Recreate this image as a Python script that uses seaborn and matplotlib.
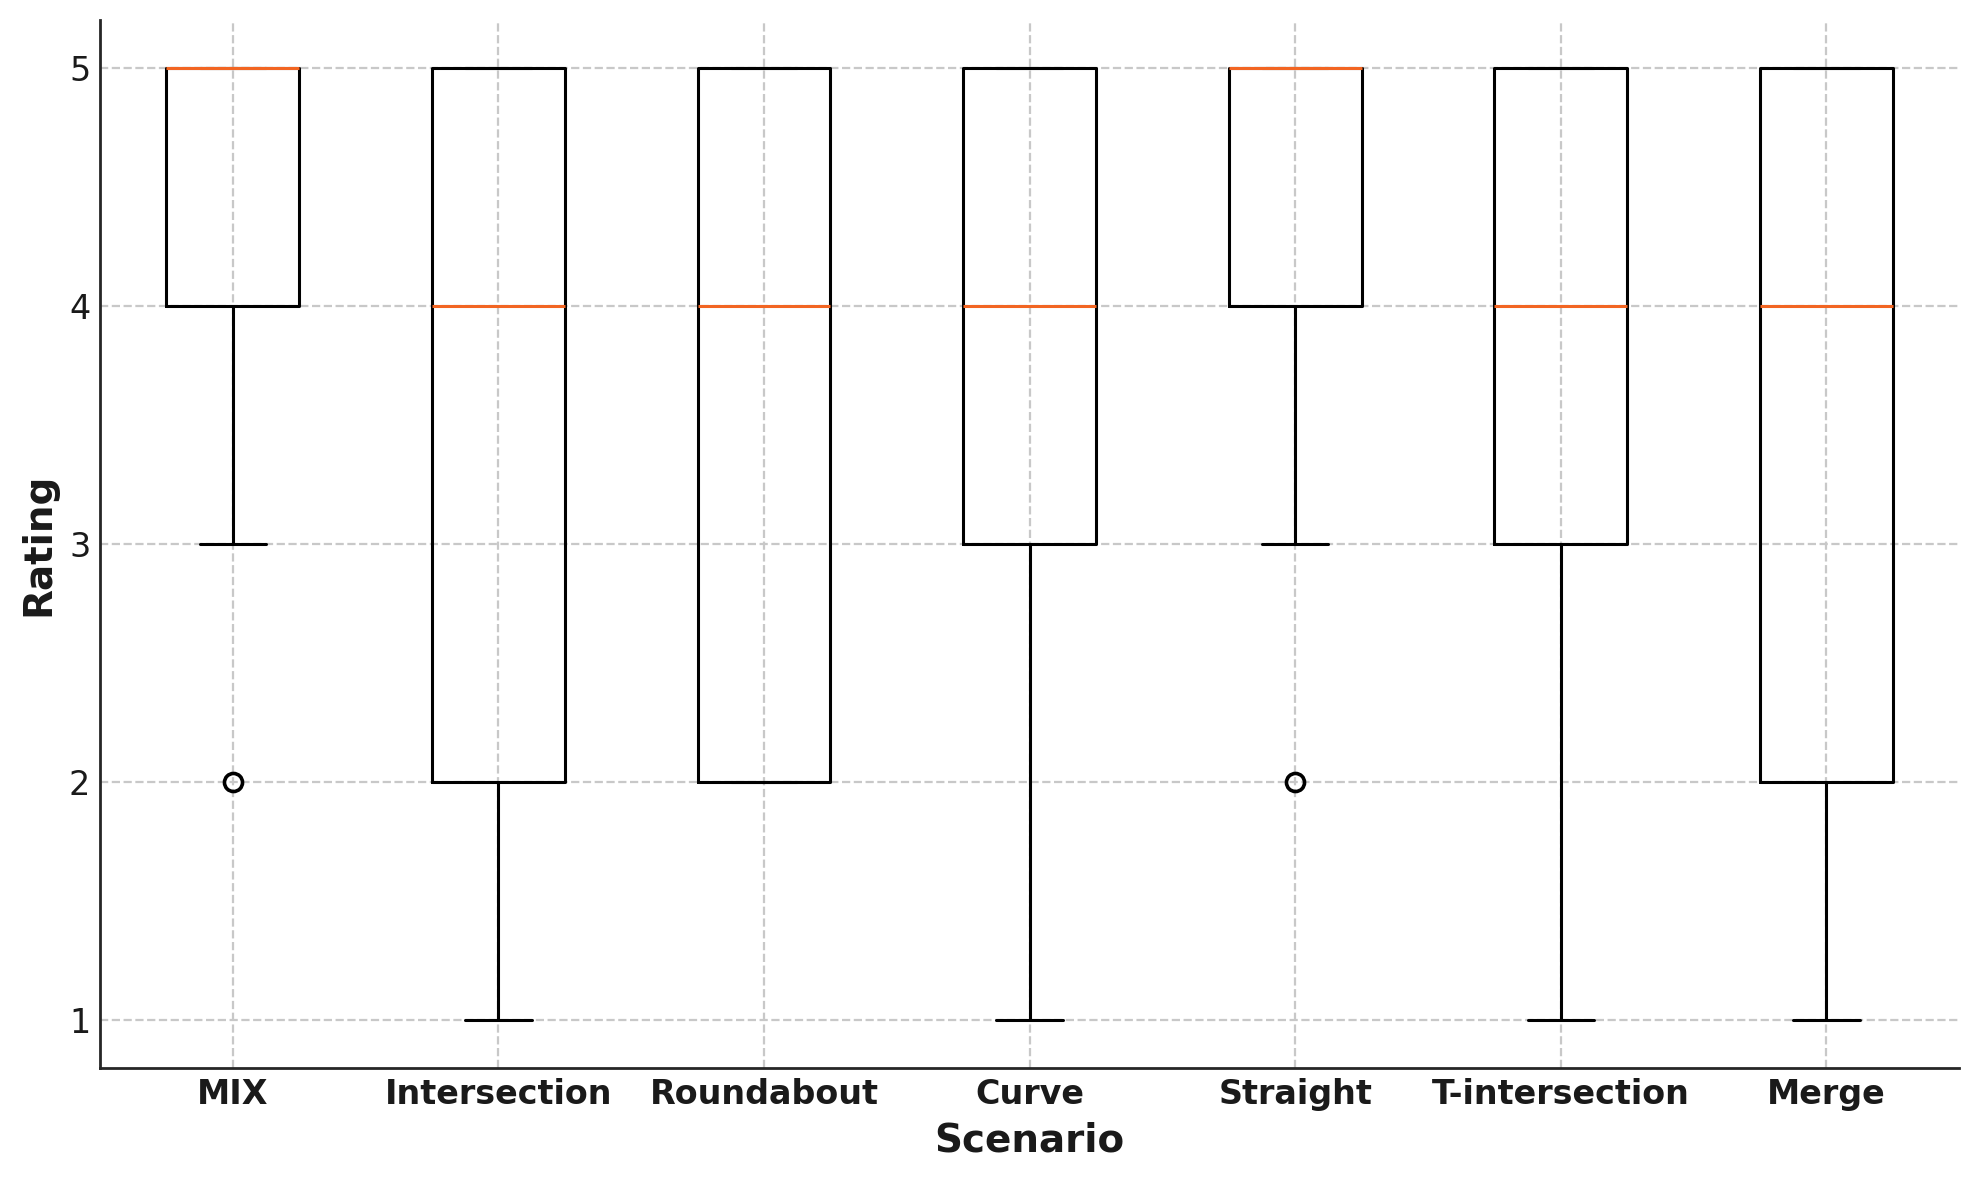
import pandas as pd
import numpy as np
import matplotlib.pyplot as plt
import seaborn as sns

scenarios = ['MIX', 'Intersection', 'Roundabout', 'Curve', 'Straight', 'T-intersection', 'Merge']

# individual ratings per scenario (1-5 scale)
mix = [2, 3, 4, 4, 4, 5, 5, 5, 5, 5, 5, 5]
intersection = [1, 2, 2, 3, 4, 4, 5, 5, 5]
roundabout = [2, 2, 2, 3, 4, 4, 5, 5, 5]
curve = [1, 3, 3, 3, 4, 4, 5, 5, 5]
straight = [2, 3, 4, 4, 4, 5, 5, 5, 5, 5, 5, 5]
t_intersection = [1, 3, 3, 3, 4, 4, 5, 5, 5]
merge = [1, 2, 2, 3, 4, 4, 5, 5, 5]

ratings = [mix, intersection, roundabout, curve, straight, t_intersection, merge]

rows = []
for name, vals in zip(scenarios, ratings):
    for v in vals:
        rows.append({'Scenario': name, 'Rating': v})
df = pd.DataFrame(rows)

sns.set_style('white')
plt.rcParams['font.family'] = ['DejaVu Sans']

fig = plt.figure(figsize=(9.895, 5.9), dpi=200)
ax = fig.add_axes([0.0505, 0.095, 0.9395, 0.888])

sns.boxplot(data=df, x='Scenario', y='Rating', order=scenarios, ax=ax,
            fill=False, color='black', width=0.5, linewidth=1.1,
            whis=1.5,
            medianprops={'color': '#f26522', 'linewidth': 1.1},
            capprops={'color': 'black', 'linewidth': 1.1},
            whiskerprops={'color': 'black', 'linewidth': 1.1},
            boxprops={'color': 'black', 'linewidth': 1.1},
            flierprops={'marker': 'o', 'markersize': 6.5, 'markerfacecolor': 'none',
                        'markeredgecolor': 'black', 'markeredgewidth': 1.3})

ax.set_ylim(0.8, 5.2)
ax.set_xlim(-0.5, 6.5)
ax.set_yticks([1, 2, 3, 4, 5])
ax.grid(True, linestyle='--', color='#c8c8c8', linewidth=0.8)
ax.set_axisbelow(True)

for s in ['top', 'right']:
    ax.spines[s].set_visible(False)
for s in ['left', 'bottom']:
    ax.spines[s].set_color('#262626')
    ax.spines[s].set_linewidth(1.0)

ax.tick_params(axis='both', direction='in', length=3.6, width=1.0, color='#262626',
               labelcolor='#1a1a1a', labelsize=12)
for lbl in ax.get_xticklabels():
    lbl.set_fontweight('bold')

ax.set_xlabel('Scenario', fontsize=14, fontweight='bold', color='#1a1a1a')
ax.set_ylabel('Rating', fontsize=14, fontweight='bold', color='#1a1a1a')

plt.savefig('out.png', dpi=200)
